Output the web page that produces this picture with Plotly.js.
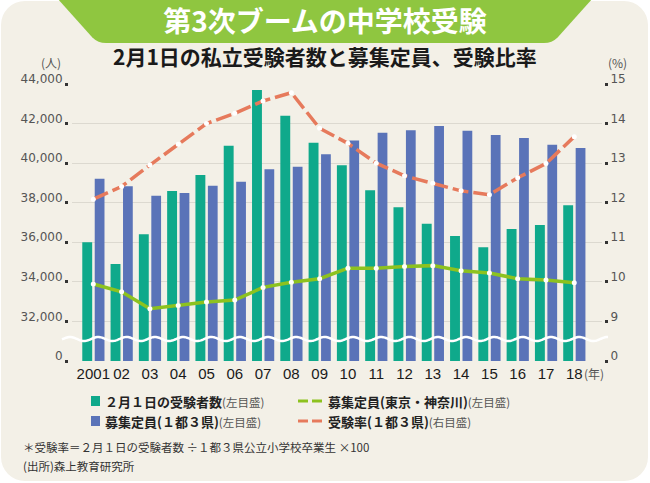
<!DOCTYPE html>
<html>
<head>
<meta charset="utf-8">
<script src="https://cdn.plot.ly/plotly-3.0.1.min.js"></script>
<style>
  html, body { margin:0; padding:0; background:#ffffff; }
  #wrap { position:relative; width:650px; height:483px; overflow:hidden; }
  #panel { position:absolute; left:1px; top:1px; width:647px; height:480px; background:#f3f0e7; border-radius:24px; }
  #chart { position:absolute; left:0; top:0; width:650px; height:483px; }
</style>
</head>
<body>
<div id="wrap"><div id="panel"></div><div id="chart"></div></div>
<script>
// ---- data ----
const years = ['2001','02','03','04','05','06','07','08','09','10','11','12','13','14','15','16','17','18'];
const examinees = [36000,34900,36400,38590,39400,40880,43700,42400,41030,39890,38630,37770,36940,36320,35750,36670,36870,37870];
const capacity1to3 = [39210,38830,38350,38490,38860,39060,39690,39820,40450,41150,41540,41660,41880,41640,41420,41270,40930,40770];
const capacityTK = [33890,33500,32640,32810,32980,33080,33720,33980,34160,34690,34690,34770,34820,34560,34450,34160,34090,33960];
const examRate = [12.09,12.41,12.95,13.48,14.00,14.26,14.57,14.78,13.88,13.50,13.00,12.68,12.49,12.30,12.20,12.63,12.99,13.67];
const leftTickVals = [30000,32000,34000,36000,38000,40000,42000,44000];
const leftTickText = ['0','32,000','34,000','36,000','38,000','40,000','42,000','44,000'];
const rightTickVals = [8,9,10,11,12,13,14,15];
const rightTickText = ['0','9','10','11','12','13','14','15'];

const idx = years.map((_, i) => i);

// ---- pixel helpers for decorations ----
const PL = 68, PW = 536, PB = 361, PH = 277;
const fx = px => (px - PL) / PW;
const fy = py => (PB - py) / PH;

const JP = '"Noto Sans CJK JP", "Noto Sans", sans-serif';
const GREEN = '#0fa98b', BLUE = '#5a73b8', LIME = '#8dc21f', SALMON = '#e67a5c';

const traces = [
  { type:'bar', x: idx, y: examinees, offset:-0.39, width:0.35, marker:{color:GREEN}, name:'２月１日の受験者数', hoverinfo:'skip' },
  { type:'bar', x: idx, y: capacity1to3, offset:0.05, width:0.345, marker:{color:BLUE}, name:'募集定員（１都３県）', hoverinfo:'skip' },
  { type:'scatter', mode:'lines+markers', x: idx, y: capacityTK, line:{color:LIME, width:3.5}, marker:{color:'#ffffff', size:5}, name:'募集定員（東京・神奈川）', hoverinfo:'skip' },
  { type:'scatter', mode:'lines+markers', x: idx, y: examRate, yaxis:'y2', line:{color:SALMON, width:3.5, dash:'16px,5px'}, marker:{color:'#ffffff', size:5}, name:'受験率（１都３県）', hoverinfo:'skip' }
];

// wave break decoration
let wave = '';
for (let px = 62; px <= 608; px += 1) {
  const py = 339 - 2 * Math.cos(2 * Math.PI * (px - 70) / 28.29);
  wave += (px === 62 ? 'M' : 'L') + fx(px).toFixed(5) + ',' + fy(py).toFixed(5);
}

// banner path (trapezoid with rounded bottom corners)
const r = 8, bb = 43;
const banner = 'M' + fx(57) + ',' + fy(-2) +
  ' L' + fx(593) + ',' + fy(-2) +
  ' L' + fx(552 + r*0.7) + ',' + fy(bb - r*0.7) +
  ' Q' + fx(552) + ',' + fy(bb) + ' ' + fx(552 - r) + ',' + fy(bb) +
  ' L' + fx(98 + r) + ',' + fy(bb) +
  ' Q' + fx(98) + ',' + fy(bb) + ' ' + fx(98 - r*0.7) + ',' + fy(bb - r*0.7) + ' Z';

const shapes = [
  { type:'path', xref:'paper', yref:'paper', path: banner, fillcolor:'#8fc640', line:{width:0}, layer:'below' },
  { type:'path', xref:'paper', yref:'paper', path: wave, line:{color:'#ffffff', width:2.5}, layer:'above' },
  // legend symbols
  { type:'rect', xref:'paper', yref:'paper', x0:fx(91), x1:fx(100), y0:fy(396), y1:fy(406), fillcolor:GREEN, line:{width:0} },
  { type:'rect', xref:'paper', yref:'paper', x0:fx(91), x1:fx(100), y0:fy(416), y1:fy(426), fillcolor:BLUE, line:{width:0} },
  { type:'line', xref:'paper', yref:'paper', x0:fx(298), x1:fx(308), y0:fy(401), y1:fy(401), line:{color:LIME, width:3} },
  { type:'line', xref:'paper', yref:'paper', x0:fx(312), x1:fx(322), y0:fy(401), y1:fy(401), line:{color:LIME, width:3} },
  { type:'line', xref:'paper', yref:'paper', x0:fx(298), x1:fx(308), y0:fy(421), y1:fy(421), line:{color:SALMON, width:3} },
  { type:'line', xref:'paper', yref:'paper', x0:fx(312), x1:fx(322), y0:fy(421), y1:fy(421), line:{color:SALMON, width:3} }
];

const note = s => '<span style="font-size:11.5px;font-weight:normal;color:#555">' + s + '</span>';
const ann = (text, px, py, opts) => Object.assign({
  text, xref:'paper', yref:'paper', x: fx(px), y: fy(py), showarrow:false,
  xanchor:'left', yanchor:'middle', font:{family:JP, size:13, color:'#222'}
}, opts || {});

const annotations = [
  ann('<b>2月1日の私立受験者数と募集定員、受験比率</b>', 325, 56, {xanchor:'center', font:{family:JP, size:21, color:'#1a1a1a'}}),
  ann('(人)', 51, 62, {xanchor:'center', font:{family:JP, size:12, color:'#555'}}),
  ann('(%)', 617, 62, {xanchor:'center', font:{family:JP, size:12, color:'#555'}}),
  ann('(年)', 582, 373, {font:{family:JP, size:12, color:'#555'}}),
  ann('<b>２月１日の受験者数</b>' + note('(左目盛)'), 103, 401),
  ann('<b>募集定員(１都３県)</b>' + note('(左目盛)'), 103, 421),
  ann('<b>募集定員(東京・神奈川)</b>' + note('(左目盛)'), 326, 401),
  ann('<b>受験率(１都３県)</b>' + note('(右目盛)'), 326, 421),
  ann('＊受験率＝２月１日の受験者数 ÷１都３県公立小学校卒業生 ×100', 21, 447, {font:{family:JP, size:11.5, color:'#333'}}),
  ann('(出所)森上教育研究所', 21, 466, {font:{family:JP, size:11.5, color:'#333'}})
];

const tickStyle = {
  ticks:'outside', ticklen:3, tickwidth:3, tickcolor:'#333',
  tickfont:{family:'"DejaVu Sans", sans-serif', size:12, color:'#555'},
  ticklabelshift:-5, zeroline:false, showline:false
};

const layout = {
  width:650, height:483,
  margin:{l:PL, r:650-PL-PW, t:84, b:483-PB, pad:0},
  paper_bgcolor:'rgba(0,0,0,0)', plot_bgcolor:'rgba(0,0,0,0)',
  showlegend:false, barmode:'overlay',
  title:{ text:'<b>第3次ブームの中学校受験</b>', font:{family:JP, size:28, color:'#ffffff'},
          xref:'container', yref:'container', x:0.5, xanchor:'center', y:1 - 22/483, yanchor:'middle' },
  xaxis:{
    domain:[fx(71.7), fx(601.7)], range:[-0.764, 17.97],
    tickvals: idx, ticktext: years, showgrid:false, zeroline:false, showline:false, ticks:'',
    tickfont:{family:'"Liberation Sans", Arial, sans-serif', size:15, color:'#1a1a1a'},
    ticklabelstandoff:2
  },
  yaxis: Object.assign({
    range:[30000,44000], tickvals:leftTickVals, ticktext:leftTickText,
    anchor:'free', position:0, showgrid:true, gridcolor:'#dcd9d0', gridwidth:1
  }, tickStyle),
  yaxis2: Object.assign({
    range:[8,15], tickvals:rightTickVals, ticktext:rightTickText,
    overlaying:'y', side:'right', anchor:'free', position:1, showgrid:false
  }, tickStyle),
  shapes, annotations
};

Plotly.newPlot('chart', traces, layout, {staticPlot:true, displayModeBar:false});
</script>
</body>
</html>
